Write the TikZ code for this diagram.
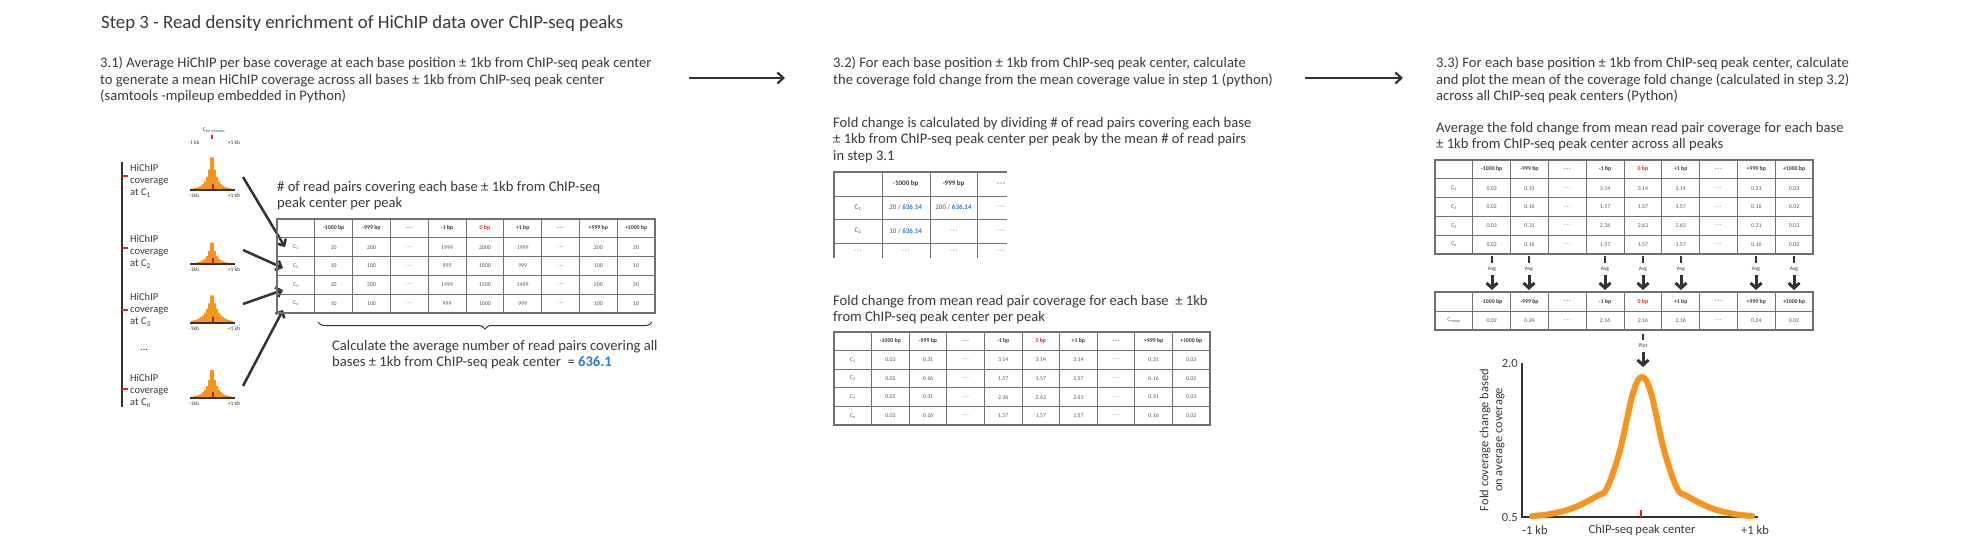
\documentclass[tikz,border=0pt]{standalone}
\usepackage{fontspec}
\setmainfont{Carlito}
\usetikzlibrary{arrows.meta,decorations.pathreplacing}
\definecolor{txt}{HTML}{3A3A3A}
\definecolor{ln}{HTML}{333333}
\definecolor{grid}{HTML}{707070}
\definecolor{org}{HTML}{F7941D}
\definecolor{redm}{HTML}{E0242B}
\definecolor{bluem}{HTML}{2E7BCF}
\definecolor{darkred}{HTML}{B3202A}
\newcommand\dotsg{\textcolor{grid}{·\,·\,·}}
\newcommand\tgrid[6]{%
  \pgfmathtruncatemacro\tgc{#4-1}\pgfmathtruncatemacro\tgr{#6-1}%
  \foreach \i in {1,...,\tgc} \draw[gl] ({#1+\i*#3},#2) -- ({#1+\i*#3},{#2+#6*#5});
  \foreach \j in {1,...,\tgr} \draw[gl] (#1,{#2+\j*#5}) -- ({#1+#4*#3},{#2+\j*#5});
  \draw[gl,line width=1.3pt] (#1,#2) rectangle ({#1+#4*#3},{#2+#6*#5});
}
\newcommand\trow[6]{%
  \foreach \v [count=\c] in {#6} \node[#5] (#1-\c) at ({#2+(\c-0.5)*#3},#4) {\v};
}
\begin{document}
\begin{tikzpicture}[x=1pt,y=-1pt,
  every node/.style={inner sep=0pt, text=txt},
  ttl/.style={font=\fontsize{18.8}{22}\selectfont, anchor=west},
  ptext/.style={font=\fontsize{14.6}{16.5}\selectfont, align=left, anchor=north west},
  sidel/.style={font=\fontsize{10.5}{12}\selectfont, align=left, anchor=west},
  tkl/.style={font=\fontsize{5.5}{6}\selectfont},
  hdr/.style={font=\fontsize{5.8}{6}\selectfont\bfseries},
  cel/.style={font=\fontsize{5.8}{6}\selectfont, text=txt!85},
  gl/.style={draw=grid, line width=0.9pt},
  bigarr/.style={draw=ln, line width=2.2pt, -{Straight Barb[length=6pt,width=11pt]}},
  parr/.style={draw=ln, line width=2.5pt, -{Straight Barb[length=5pt,width=10pt]}},
  avgarr/.style={draw=ln, line width=3pt, -{Straight Barb[length=5pt,width=11pt]}},
  axl/.style={font=\fontsize{12.5}{14}\selectfont}
]
\fill[white] (0,0) rectangle (1968,552);
\useasboundingbox (0,0) rectangle (1968,552);

% ---------- titles and paragraphs
\node[ttl] (title) at (101,23) {Step 3 - Read density enrichment of HiChIP data over ChIP-seq peaks};
\node[ptext] (s31) at (100,57) {3.1) Average HiChIP per base coverage at each base position ± 1kb from ChIP-seq peak center\\to generate a mean HiChIP coverage across all bases ± 1kb from ChIP-seq peak center\\(samtools -mpileup embedded in Python)};
\node[ptext] (s32) at (833,57) {3.2) For each base position ± 1kb from ChIP-seq peak center, calculate\\the coverage fold change from the mean coverage value in step 1 (python)};
\node[ptext] (s32b) at (833,117) {Fold change is calculated by dividing \# of read pairs covering each base\\± 1kb from ChIP-seq peak center per peak by the mean \# of read pairs\\in step 3.1};
\node[ptext] (s32c) at (833,295) {Fold change from mean read pair coverage for each base~~± 1kb\\from ChIP-seq peak center per peak};
\node[ptext] (s33) at (1436,57) {3.3) For each base position ± 1kb from ChIP-seq peak center, calculate\\and plot the mean of the coverage fold change (calculated in step 3.2)\\across all ChIP-seq peak centers (Python)};
\node[ptext] (s33b) at (1436,122) {Average the fold change from mean read pair coverage for each base\\± 1kb from ChIP-seq peak center across all peaks};

% step arrows
\coordinate (a1s) at (689,78); \coordinate (a1e) at (785,78);
\coordinate (a2s) at (1305,78); \coordinate (a2e) at (1403,78);
\draw[bigarr] (a1s) -- (a1e);
\draw[bigarr] (a2s) -- (a2e);

% ---------- left: coverage tracks
\draw[ln, line width=1.5pt] (122,162) -- (122,407);
\foreach \y in {176,248,310,389} \draw[redm, line width=1.8pt] (122,\y) -- (128,\y);
\foreach \k/\y/\s in {1/181/1, 2/252/2, 3/310/3, 4/391/n}
  \node[sidel] (hl\k) at (130,\y) {HiChIP\\coverage\\at C\textsubscript{\s}};
\node[sidel] (hdots) at (140,350) {...};

\foreach \k/\by/\h/\s in {1/190/42/3.2, 2/264/28/3, 3/323/33/4.5, 4/398/35/3.5} {
  \fill[org] (191,\by) -- plot[const plot mark mid, domain=-21:21, samples=22]
     ({212+\x},{\by-\h*(0.7*exp(-abs(\x)/\s)+0.3*exp(-abs(\x)/(2.6*\s)))}) -- (233,\by) -- cycle;
  \draw[ln, line width=1.5pt] (190,\by) -- (235,\by);
  \draw[darkred, line width=2.2pt] (213,\by) -- (213,{\by-6});
  \node[tkl] (pl\k) at (194,{\by+6}) {-1kb};
  \node[tkl] (pr\k) at (234,{\by+6}) {+1 kb};
}
\node[tkl] (call) at (214,131) {C\textsubscript{for all peaks}};
\draw[redm, line width=1.5pt] (212,135) -- (212,139);
\node[tkl] (tl) at (194,143) {-1 kb};
\node[tkl] (tr) at (234,143) {+1 kb};

% arrows peaks -> table
\coordinate (pa1) at (243,177); \coordinate (ta1) at (285,247);
\coordinate (pa2) at (243,250); \coordinate (ta2) at (283,268);
\coordinate (pa3) at (243,304); \coordinate (ta3) at (283,290);
\coordinate (pa4) at (243,386); \coordinate (ta4) at (283,310);
\foreach \k in {1,...,4} \draw[parr] (pa\k) -- (ta\k);

% ---------- table 1
\node[ptext] (t1cap) at (277,181) {\# of read pairs covering each base ± 1kb from ChIP-seq\\peak center per peak};
\tgrid{277}{219}{37.8}{10}{18.8}{5}
\trow{t1h}{277}{37.8}{228.4}{hdr}{{}, -1000 bp, -999 bp, \dotsg, -1 bp, \textcolor{redm}{0 bp}, +1 bp, \dotsg, +999 bp, +1000 bp}
\trow{t1a}{277}{37.8}{247.2}{cel}{C\textsubscript{1}, 20, 200, \dotsg, 1999, 2000, 1999, \dotsg, 200, 20}
\trow{t1b}{277}{37.8}{266.0}{cel}{C\textsubscript{2}, 10, 100, \dotsg, 999, 1000, 999, \dotsg, 100, 10}
\trow{t1c}{277}{37.8}{284.8}{cel}{C\textsubscript{3}, 20, 200, \dotsg, 1499, 1500, 1499, \dotsg, 200, 20}
\trow{t1d}{277}{37.8}{303.6}{cel}{C\textsubscript{n}, 10, 100, \dotsg, 999, 1000, 999, \dotsg, 100, 10}
\coordinate (br1) at (318,322); \coordinate (br2) at (652,322);
\draw[ln, line width=1pt, decorate, decoration={brace, mirror, amplitude=7pt}] (br1) -- (br2);
\node[ptext] (avgtxt) at (332,340) {Calculate the average number of read pairs covering all\\bases ± 1kb from ChIP-seq peak center~ = \textcolor{bluem}{\bfseries 636.1}};

% ---------- small table 3.2
\foreach \x in {882,930,977} \draw[gl] (\x,172) -- (\x,258);
\draw[gl,line width=1.3pt] (834,258) -- (834,172) -- (1007,172);
\foreach \y in {196,219,243} \draw[gl] (834,\y) -- (1007,\y);
\foreach \v [count=\c] in {{}, -1000 bp, -999 bp, \dotsg} \node[hdr, font=\fontsize{7}{7}\selectfont\bfseries] (sh-\c) at ({834+(\c-0.5)*47.8},184) {\v};
\foreach \v [count=\c] in {C\textsubscript{1}, 20 / \textcolor{bluem}{\bfseries 636.14}, 200 / \textcolor{bluem}{\bfseries 636.14}, \dotsg} \node[cel, font=\fontsize{7}{7}\selectfont] (sa-\c) at ({834+(\c-0.5)*47.8},207.5) {\v};
\foreach \v [count=\c] in {C\textsubscript{2}, 10 / \textcolor{bluem}{\bfseries 636.14}, \dotsg, \dotsg} \node[cel, font=\fontsize{7}{7}\selectfont] (sb-\c) at ({834+(\c-0.5)*47.8},231) {\v};
\foreach \v [count=\c] in {\dotsg, \dotsg, \dotsg, \dotsg} \node[cel, font=\fontsize{7}{7}\selectfont] (sc-\c) at ({834+(\c-0.5)*47.8},251) {\v};

% ---------- table 2
\tgrid{834}{332}{37.6}{10}{18.6}{5}
\trow{t2h}{834}{37.6}{341.3}{hdr}{{}, -1000 bp, -999 bp, \dotsg, -1 bp, \textcolor{redm}{0 bp}, +1 bp, \dotsg, +999 bp, +1000 bp}
\trow{t2a}{834}{37.6}{359.9}{cel}{C\textsubscript{1}, 0.03, 0.31, \dotsg, 3.14, 3.14, 3.14, \dotsg, 0.31, 0.03}
\trow{t2b}{834}{37.6}{378.5}{cel}{C\textsubscript{2}, 0.02, 0.16, \dotsg, 1.57, 1.57, 1.57, \dotsg, 0.16, 0.02}
\trow{t2c}{834}{37.6}{397.1}{cel}{C\textsubscript{3}, 0.03, 0.31, \dotsg, 2.36, 2.63, 2.63, \dotsg, 0.31, 0.03}
\trow{t2d}{834}{37.6}{415.7}{cel}{C\textsubscript{n}, 0.02, 0.16, \dotsg, 1.57, 1.57, 1.57, \dotsg, 0.16, 0.02}

% ---------- table 3
\tgrid{1435}{160}{37.8}{10}{18.8}{5}
\trow{t3h}{1435}{37.8}{169.4}{hdr}{{}, -1000 bp, -999 bp, \dotsg, -1 bp, \textcolor{redm}{0 bp}, +1 bp, \dotsg, +999 bp, +1000 bp}
\trow{t3a}{1435}{37.8}{188.2}{cel}{C\textsubscript{1}, 0.03, 0.31, \dotsg, 3.14, 3.14, 3.14, \dotsg, 0.31, 0.03}
\trow{t3b}{1435}{37.8}{207.0}{cel}{C\textsubscript{2}, 0.02, 0.16, \dotsg, 1.57, 1.57, 1.57, \dotsg, 0.16, 0.02}
\trow{t3c}{1435}{37.8}{225.8}{cel}{C\textsubscript{3}, 0.03, 0.31, \dotsg, 2.36, 2.63, 2.63, \dotsg, 0.31, 0.03}
\trow{t3d}{1435}{37.8}{244.6}{cel}{C\textsubscript{n}, 0.02, 0.16, \dotsg, 1.57, 1.57, 1.57, \dotsg, 0.16, 0.02}

% avg arrows
\foreach \c/\x in {2/1492,3/1529,5/1605,6/1643,7/1681,9/1756,10/1794} {
  \draw[ln, line width=2.5pt] (\x,256) -- (\x,263);
  \node[tkl] (avg\c) at (\x,269) {Avg};
  \coordinate (av\c s) at (\x,275); \coordinate (av\c e) at (\x,290);
  \draw[avgarr] (av\c s) -- (av\c e);
}

% ---------- table 4
\tgrid{1435}{292}{37.8}{10}{19}{2}
\trow{t4h}{1435}{37.8}{301.5}{hdr}{{}, -1000 bp, -999 bp, \dotsg, -1 bp, \textcolor{redm}{0 bp}, +1 bp, \dotsg, +999 bp, +1000 bp}
\trow{t4a}{1435}{37.8}{320.5}{cel}{C\textsubscript{mean}, 0.02, 0.24, \dotsg, 2.16, 2.16, 2.16, \dotsg, 0.24, 0.02}

% plot arrow
\draw[ln, line width=2.5pt] (1643,334) -- (1643,340);
\node[tkl] (plotl) at (1643,346) {Plot};
\coordinate (pls) at (1643,352); \coordinate (ple) at (1643,367);
\draw[avgarr] (pls) -- (ple);

% ---------- chart
\draw[ln, line width=1.5pt] (1522,363) -- (1522,517) -- (1758,517);
\node[axl, anchor=east] (y20) at (1518,363) {2.0};
\node[axl, anchor=east] (y05) at (1518,517) {0.5};
\node[axl, rotate=90, align=center] (ylab) at (1492,440) {Fold coverage change based\\on average coverage};
\node[axl] (xl1) at (1535,530) {-1 kb};
\node[axl] (xl2) at (1642,530) {ChIP-seq peak center};
\node[axl] (xl3) at (1755,530) {+1 kb};
\draw[org, line width=6pt, line cap=round, line join=round] plot[smooth, tension=0.6] coordinates {(1532,516) (1550,514) (1573,508) (1597,496) (1607,488) (1620,450) (1633,393) (1642,377) (1651,393) (1664,450) (1677,488) (1687,496) (1711,508) (1734,514) (1752,516)};
\draw[redm, line width=2pt] (1641,510) -- (1641,517);
\end{tikzpicture}
\end{document}
